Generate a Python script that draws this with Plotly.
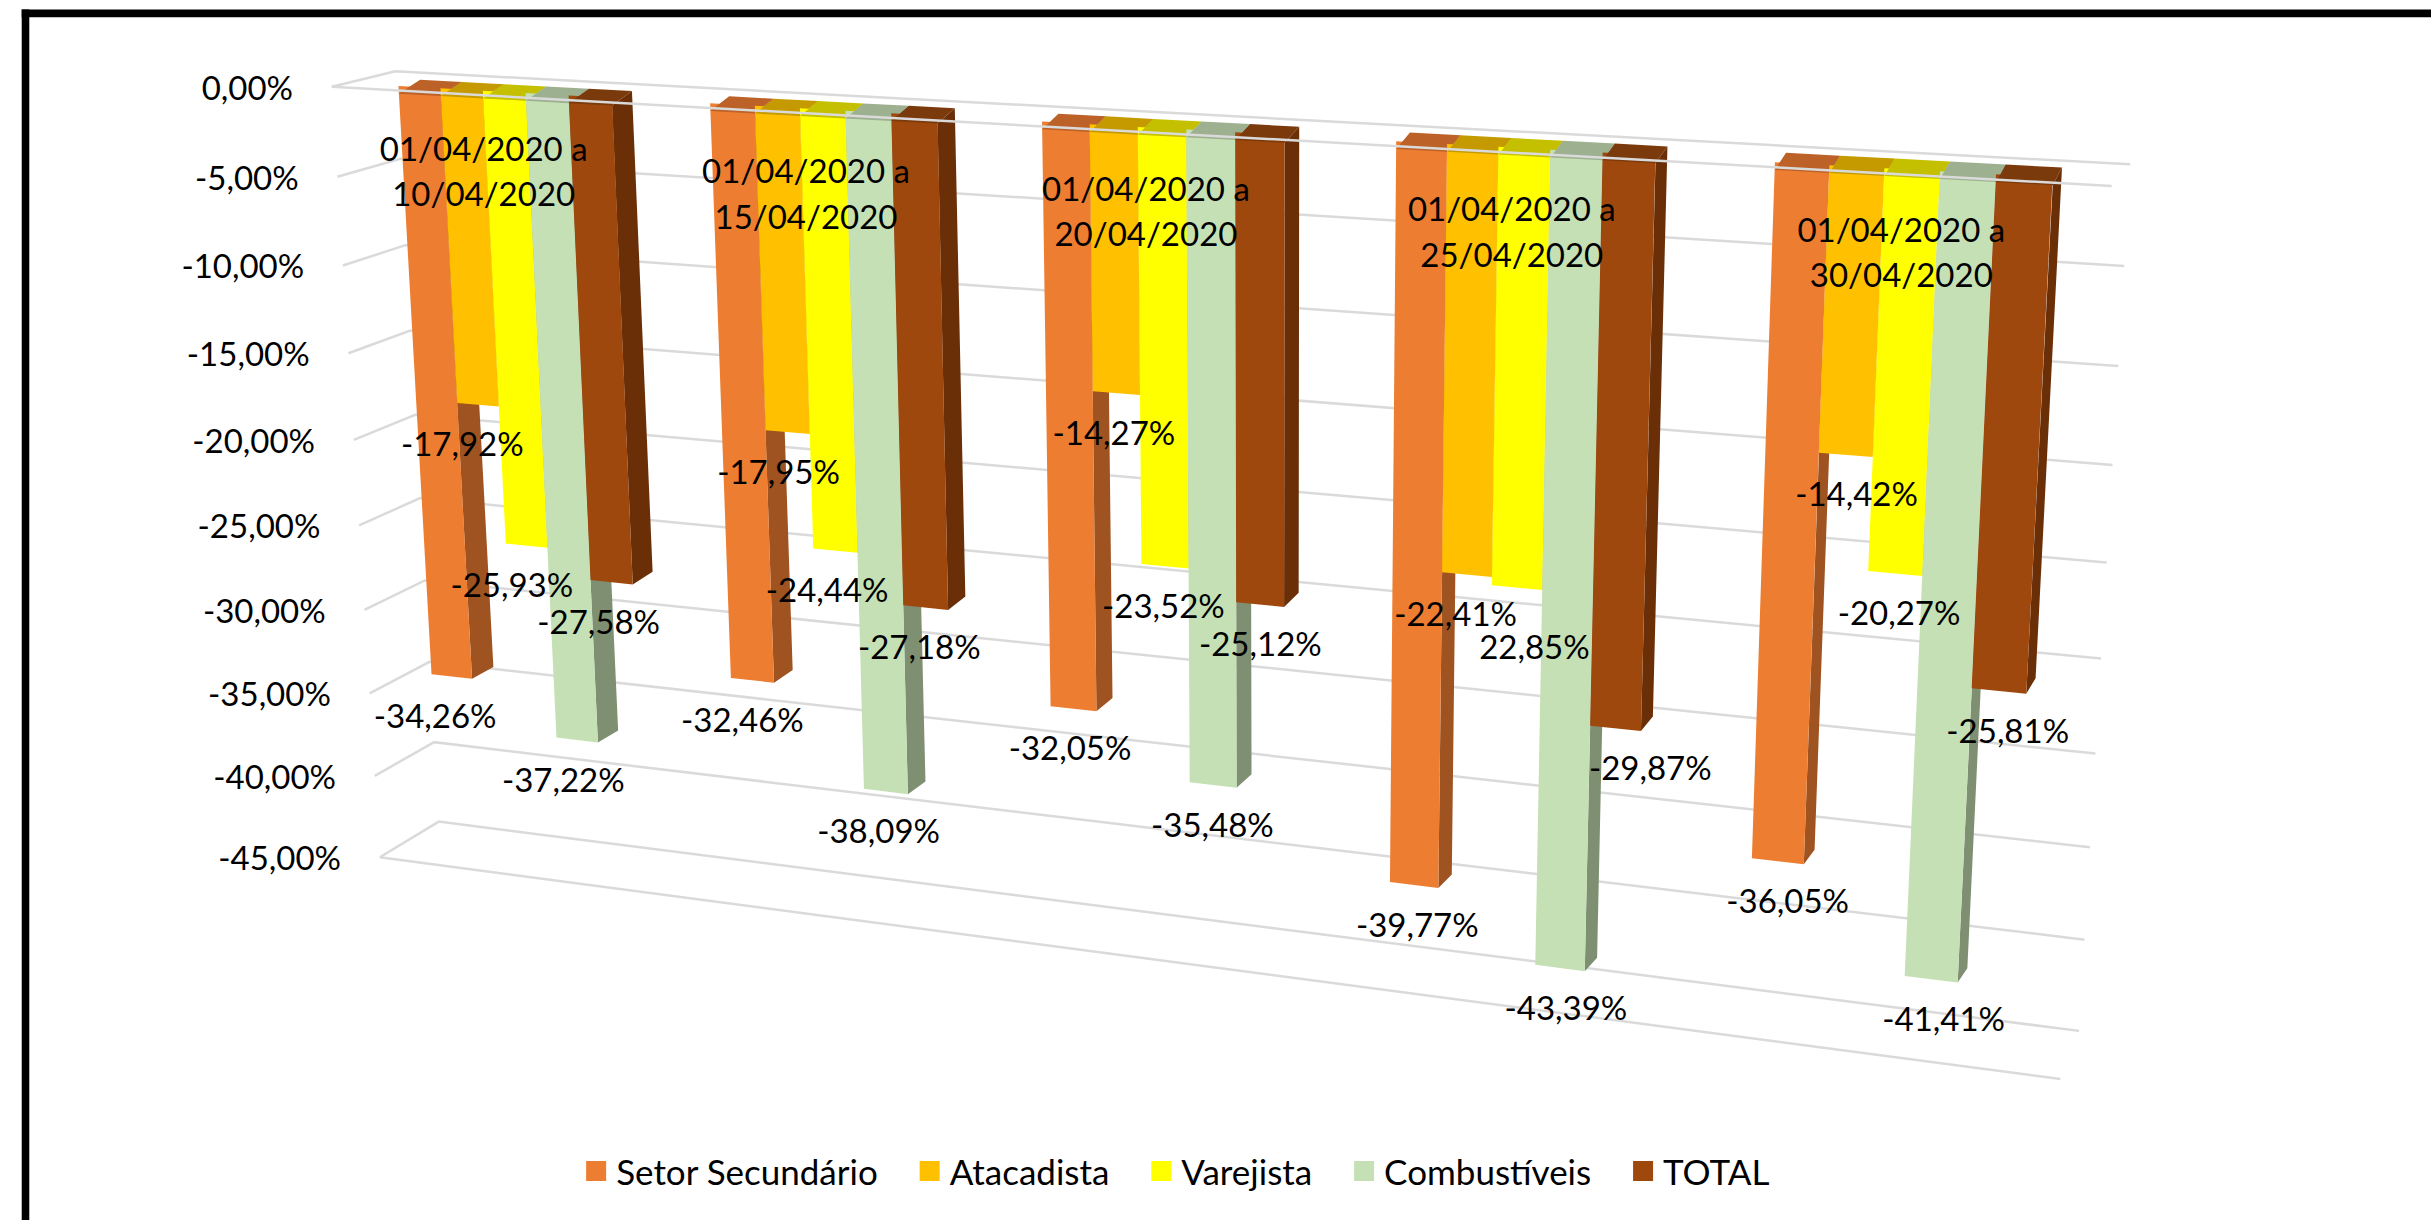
import numpy as np
import plotly.graph_objects as go

# ---------- data ----------
periods = [
    ["01/04/2020 a", "10/04/2020"],
    ["01/04/2020 a", "15/04/2020"],
    ["01/04/2020 a", "20/04/2020"],
    ["01/04/2020 a", "25/04/2020"],
    ["01/04/2020 a", "30/04/2020"],
]
series_names = ["Setor Secundário", "Atacadista", "Varejista", "Combustíveis", "TOTAL"]
setor_secundario = [-34.26, -32.46, -32.05, -39.77, -36.05]
atacadista = [-17.92, -17.95, -14.27, -22.41, -14.42]
varejista = [-25.93, -24.44, -23.52, -22.85, -20.27]
combustiveis = [-37.22, -38.09, -35.48, -43.39, -41.41]
total = [-27.58, -27.18, -25.12, -29.87, -25.81]
tick_values = [0, -5, -10, -15, -20, -25, -30, -35, -40, -45]
tick_labels = ["0,00%", "-5,00%", "-10,00%", "-15,00%", "-20,00%",
               "-25,00%", "-30,00%", "-35,00%", "-40,00%", "-45,00%"]

all_series = [setor_secundario, atacadista, varejista, combustiveis, total]

# ---------- styles ----------
FRONT = ["#ED7D31", "#FFC000", "#FFFF00", "#C5E0B4", "#9E480E"]
SIDE = ["#9E5320", "#BF9000", "#BFBF00", "#7F8F72", "#6B2F08"]
TOP = ["#BC6228", "#C49A00", "#C4C000", "#9DB08F", "#7B3A0C"]
GRID = "#DADADA"
FONT = "Lato"
FS = 33
LEGEND_FS = 35
LEGEND_PAD = "\u00a0" * 3

# ---------- oblique view of the Excel 3-D chart ----------
BW = 0.1384           # bar width, in category units
SPAN = 4 + 5 * BW     # first bar's left edge .. last bar's right edge
BOTTOM = -45.0
LIP = 5.0             # the top face hangs this far over the front face


def homography(src, dst):
    A, b = [], []
    for (u, v), (x, y) in zip(src, dst):
        A.append([u, v, 1, 0, 0, 0, -u * x, -v * x]); b.append(x)
        A.append([0, 0, 0, u, v, 1, -u * y, -v * y]); b.append(y)
    h = np.linalg.solve(np.array(A, float), np.array(b, float))
    H = np.append(h, 1).reshape(3, 3)

    def project(u, v):
        p = H @ np.array([u, v, 1.0])
        return p[0] / p[2], p[1] / p[2]
    return project


def plane(p00, p10, p01, p11, umax=1.0):
    return homography([(0, 0), (umax, 0), (0, BOTTOM), (umax, BOTTOM)], [p00, p10, p01, p11])


# wall corners
A, B, C, D = (214, 56), (255, 46), (1362, 120), (1374, 106)
E, F, G, H = (245, 553), (283, 530), (1329, 696), (1341, 665)
left_wall = plane(A, B, E, F)
back_wall = plane(B, D, F, H)
front_box = plane(A, C, E, G)
bar_plane = plane((257, 55.5), (1324, 114.5), (284.7, 548), (1295, 681), SPAN)


def depth(u, v):
    f = u / SPAN
    t = v / BOTTOM
    return 14 - 8 * f, -(9 + 2.4 * f) * (1 - 0.2 * t)


fig = go.Figure()

# gridlines behind the bars
gx, gy = [], []
for v in tick_values:
    for p in (left_wall(0, v), left_wall(1, v), back_wall(1, v)):
        gx.append(p[0]); gy.append(p[1])
    gx.append(None); gy.append(None)
p, q = front_box(0, BOTTOM), front_box(1, BOTTOM)
gx += [p[0], q[0]]; gy += [p[1], q[1]]
fig.add_trace(go.Scatter(x=gx, y=gy, mode="lines", line=dict(color=GRID, width=2.5),
                         hoverinfo="skip", showlegend=False))


def quad(pts, xs, ys):
    for p in pts + [pts[0]]:
        xs.append(p[0]); ys.append(p[1])
    xs.append(None); ys.append(None)


def shift(p, d):
    return p[0] + d[0], p[1] + d[1]


def filled(xs, ys, color, name):
    fig.add_trace(go.Scatter(x=xs, y=ys, mode="lines", fill="toself", fillcolor=color,
                             line=dict(width=0, color=color), name=name,
                             hoverinfo="skip", showlegend=False))


for k, vals in enumerate(all_series):
    sx, sy, tx, ty, fx, fy = [], [], [], [], [], []
    for g, v in enumerate(vals):
        u0 = g + k * BW
        u1 = u0 + BW
        tl, tr = bar_plane(u0, 0), bar_plane(u1, 0)
        bl, br = bar_plane(u0, v), bar_plane(u1, v)
        tl_lip, tr_lip = shift(tl, (0, LIP)), shift(tr, (0, LIP))
        quad([tr_lip, br, shift(br, depth(u1, v)), shift(tr_lip, depth(u1, 0))], sx, sy)
        quad([tl_lip, tr_lip, shift(tr_lip, depth(u1, 0)), shift(tl_lip, depth(u0, 0))], tx, ty)
        quad([tl, tr, br, bl], fx, fy)
    filled(sx, sy, SIDE[k], series_names[k])
    filled(fx, fy, FRONT[k], series_names[k])
    filled(tx, ty, TOP[k], series_names[k])

# x-axis line running in front of the bar tops
p, q = front_box(0, 0), front_box(1, 0)
fig.add_trace(go.Scatter(x=[p[0], q[0]], y=[p[1], q[1]], mode="lines",
                         line=dict(color=GRID, width=2.5), hoverinfo="skip", showlegend=False))

# axis tick labels
tp = [left_wall(0, v) for v in tick_values]
fig.add_trace(go.Scatter(x=[p[0] - 25 for p in tp], y=[p[1] + 3 for p in tp], mode="text",
                         text=tick_labels, textposition="middle left",
                         textfont=dict(family=FONT, size=FS, color="black"),
                         hoverinfo="skip", showlegend=False, cliponaxis=False))

# period labels
date_dx = [-2, 0, 0, 2, 3]
date_dy = [-3, -1, -3, -4, -6]
for line in (0, 1):
    xs, ys, txt = [], [], []
    for g, lines in enumerate(periods):
        c = bar_plane(g + 2.5 * BW, -3.2)
        xs.append(c[0] - 13 + 1.2 * g + date_dx[g])
        ys.append(c[1] + LIP + 29.5 * line + date_dy[g])
        txt.append(lines[line])
    fig.add_trace(go.Scatter(x=xs, y=ys, mode="text", text=txt, textposition="middle center",
                             textfont=dict(family=FONT, size=FS, color="black"),
                             hoverinfo="skip", showlegend=False))

# data labels
label_text = {(2, 3): "22,85%"}
label_move = {(2, 3): (8, 13), (1, 3): (-10, 0), (4, 3): (18, 0), (2, 4): (-5, 0), (4, 4): (-3, 0)}
for k, vals in enumerate(all_series):
    xs, ys, txt = [], [], []
    for g, v in enumerate(vals):
        u = g + (k + 0.5) * BW
        p = bar_plane(u, v)
        dx, dy = label_move.get((k, g), (0, 0))
        xs.append(p[0] - 11 + 20 * u / SPAN + dx)
        ys.append(p[1] + 23 + LIP + dy)
        txt.append(label_text.get((k, g), f"{v:.2f}".replace(".", ",") + "%"))
    fig.add_trace(go.Scatter(x=xs, y=ys, mode="text", text=txt, textposition="middle center",
                             textfont=dict(family=FONT, size=FS, color="black"),
                             hoverinfo="skip", showlegend=False))

# legend entries
for name, color in zip(series_names, FRONT):
    fig.add_trace(go.Scatter(x=[None], y=[None], mode="markers", name=name + LEGEND_PAD,
                             marker=dict(symbol="square", size=16, color=color,
                                         line=dict(color=color, width=4))))

fig.update_layout(
    width=2431, height=1220, margin=dict(l=0, r=0, t=0, b=0),
    paper_bgcolor="white", plot_bgcolor="white",
    xaxis=dict(range=[0, 1568], visible=False, fixedrange=True),
    yaxis=dict(range=[787, 0], visible=False, fixedrange=True),
    legend=dict(orientation="h", x=0.237, xanchor="left", y=0.04, yanchor="middle",
                font=dict(family=FONT, size=LEGEND_FS, color="black"),
                bgcolor="rgba(0,0,0,0)", itemsizing="trace"),
    shapes=[
        dict(type="rect", xref="x", yref="y", x0=14, x1=18.9, y0=6.1, y1=787,
             fillcolor="black", line_width=0),
        dict(type="rect", xref="x", yref="y", x0=14, x1=1568, y0=6.1, y1=11.2,
             fillcolor="black", line_width=0),
    ],
)
fig.write_html("out.html", config={"displayModeBar": False},
               post_script="document.body.style.margin='0';")
